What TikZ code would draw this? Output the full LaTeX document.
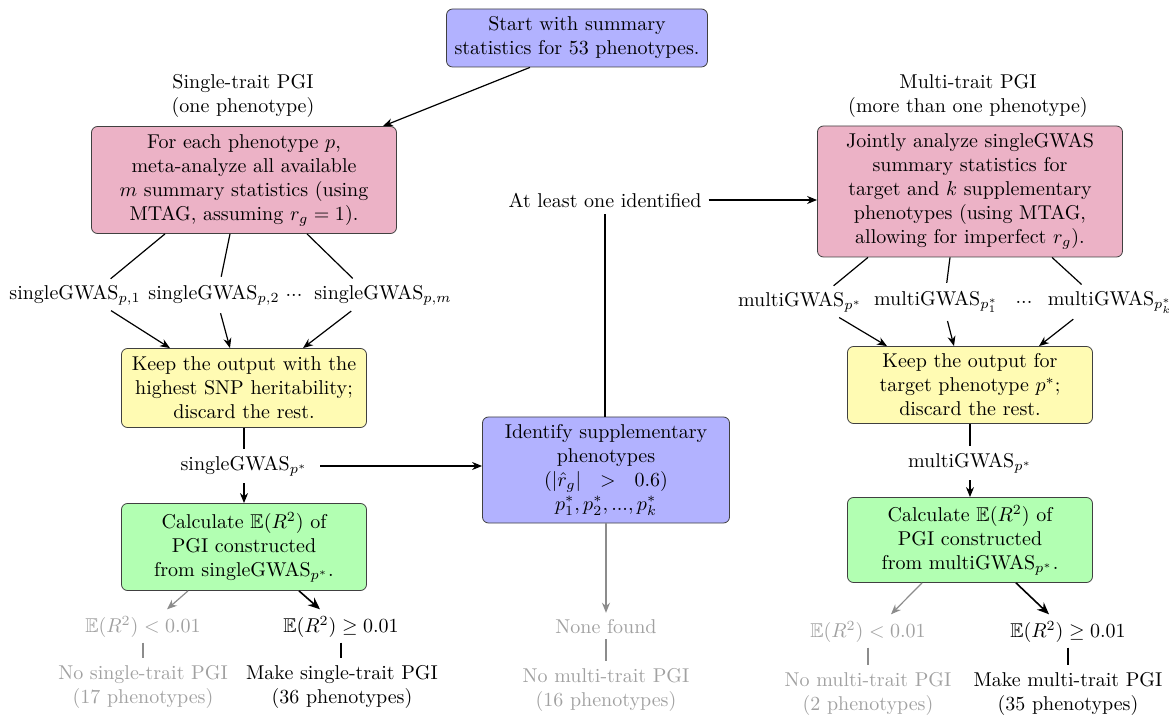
\documentclass[tikz,border=0pt]{standalone}
\usepackage{amsmath}
\usepackage{amssymb}
\usetikzlibrary{arrows.meta,positioning}
\tikzset{flowbox/.style={draw=black!75,rounded corners=3pt,align=center,inner xsep=4pt,inner ysep=3pt},
  startbox/.style={flowbox,fill=blue!30,minimum width=122.5pt,minimum height=29pt},
  mtagbox/.style={flowbox,fill=purple!30,minimum width=152.5pt},
  keepbox/.style={flowbox,fill=yellow!30,minimum width=122.5pt},
  calcbox/.style={flowbox,fill=green!30,minimum width=122.5pt},
  gwaslbl/.style={inner sep=1pt},
  faded/.style={text=black!37},
  arr/.style={semithick,-{Stealth[length=5pt,width=4pt]}},
  ln/.style={semithick}}

\begin{document}
\begin{tikzpicture}[x=0.5pt,y=-0.5pt]
                \useasboundingbox (0,0) rectangle (1175,717);
                \node[startbox] (start) at (577,38) {Start with summary\\statistics for 53 phenotypes.};
                \node[align=center] (singlelbl) at (243,96) {Single-trait PGI\\(one phenotype)};
                \node[align=center] (multilbl) at (968,96) {Multi-trait PGI\\(more than one phenotype)};
                \node[mtagbox,minimum height=53.5pt] (meta) at (244,180) {For each phenotype $p$,\\meta-analyze all available\\$m$ summary statistics (using\\MTAG, assuming $r_g=1$).};
                \node[mtagbox,minimum height=65.5pt] (joint) at (970,191.5) {Jointly analyze singleGWAS\\summary statistics for\\target and $k$ supplementary\\phenotypes (using MTAG,\\allowing for imperfect $r_g$).};
                \node (atleast) at (605,200) {At least one identified};
                % single-trait branch
                \node[gwaslbl] (sg1) at (75,295) {singleGWAS$_{p,1}$};
                \node[gwaslbl] (sg2) at (214,295) {singleGWAS$_{p,2}$};
                \node[gwaslbl] (sgdots) at (294,295) {...};
                \node[gwaslbl] (sgm) at (383,295) {singleGWAS$_{p,m}$};
                \node[keepbox,minimum height=39.5pt] (keepsingle) at (244,388) {Keep the output with the\\highest SNP heritability;\\discard the rest.};
                \node (sgstar) at (244,466) {singleGWAS$_{p^*}$};
                \node[calcbox,minimum height=43.5pt] (calcsingle) at (244,547) {Calculate $\mathbb{E}(R^2)$ of\\PGI constructed\\from singleGWAS$_{p^*}$.};
                \node[faded] (lowsingle) at (143,627) {$\mathbb{E}(R^2)<0.01$};
                \node (highsingle) at (341,627) {$\mathbb{E}(R^2)\geq 0.01$};
                \node[faded,align=center] (nosingle) at (143,687) {No single-trait PGI\\(17 phenotypes)};
                \node[align=center] (makesingle) at (342,687) {Make single-trait PGI\\(36 phenotypes)};
                % middle
                \node[startbox,minimum width=123.5pt,minimum height=53pt] (identify) at (606,470) {Identify supplementary\\phenotypes\\$(|\hat{r}_g|\ \ >\ \ 0.6)$\\$p_1^*,p_2^*,...,p_k^*$};
                \node[faded] (nonefound) at (606,627) {None found};
                \node[faded,align=center] (nomulti) at (606,690) {No multi-trait PGI\\(16 phenotypes)};
                % multi-trait branch
                \node[gwaslbl] (mg0) at (800,302) {multiGWAS$_{p^*}$};
                \node[gwaslbl] (mg1) at (936,302) {multiGWAS$_{p_1^*}$};
                \node[gwaslbl] (mgdots) at (1024,302) {...};
                \node[gwaslbl] (mgk) at (1110,302) {multiGWAS$_{p_k^*}$};
                \node[keepbox,minimum height=38.5pt] (keepmulti) at (970,385) {Keep the output for\\target phenotype $p^*$;\\discard the rest.};
                \node (mgstar) at (970,463) {multiGWAS$_{p^*}$};
                \node[calcbox,minimum height=42.5pt] (calcmulti) at (970,540) {Calculate $\mathbb{E}(R^2)$ of\\PGI constructed\\from multiGWAS$_{p^*}$.};
                \node[faded] (lowmulti) at (868,632) {$\mathbb{E}(R^2)<0.01$};
                \node (highmulti) at (1068,632) {$\mathbb{E}(R^2)\geq 0.01$};
                \node[faded,align=center] (nomultitwo) at (868,694) {No multi-trait PGI\\(2 phenotypes)};
                \node[align=center] (makemulti) at (1068,694) {Make multi-trait PGI\\(35 phenotypes)};

                \draw[arr] ([xshift=-23.5pt]start.south) -- ([xshift=69.5pt]meta.north);
                \draw[ln,shorten >=3pt] ([xshift=-39.5pt]meta.south) -- ([xshift=15.5pt]sg1.north);
                \draw[ln,shorten >=3pt] ([xshift=-7pt]meta.south) -- ([xshift=3pt]sg2.north);
                \draw[ln,shorten >=3pt] ([xshift=31.5pt]meta.south) -- ([xshift=-13pt]sgm.north);
                \draw[arr,shorten <=3pt] ([xshift=15.5pt]sg1.south) -- ([xshift=-37pt]keepsingle.north);
                \draw[arr,shorten <=3pt] ([xshift=2.5pt]sg2.south) -- ([xshift=-7pt]keepsingle.north);
                \draw[arr,shorten <=3pt] ([xshift=-13.5pt]sgm.south) -- ([xshift=29.5pt]keepsingle.north);
                \draw[ln] (keepsingle.south) -- (sgstar.north);
                \draw[arr] ([xshift=3pt]sgstar.east) -- (sgstar.east -| identify.west);
                \draw[arr] (sgstar.south) -- (calcsingle.north);
                \draw[arr,black!45] ([xshift=-28pt]calcsingle.south) -- ([xshift=12pt]lowsingle.north);
                \draw[thick,-{Stealth[length=6pt,width=5pt]}] ([xshift=27.5pt]calcsingle.south) -- ([xshift=-10.5pt]highsingle.north);
                \draw[ln,black!45,shorten <=-1pt] (lowsingle.south) -- (lowsingle.south |- nosingle.north);
                \draw[thick,shorten <=-1pt] (highsingle.south) -- (highsingle.south |- makesingle.north);

                \draw[arr] (atleast.east) -- (atleast.east -| joint.west);
                \draw[ln] (atleast.south) -- (atleast.south |- identify.north);
                \draw[arr,black!45] (identify.south) -- (nonefound.north);
                \draw[ln,black!45,shorten <=-1pt] (nonefound.south) -- (nomulti.north);

                \draw[ln,shorten >=3pt] ([xshift=-51pt]joint.south) -- ([xshift=14.5pt]mg0.north);
                \draw[ln,shorten >=3pt] ([xshift=-10pt]joint.south) -- ([xshift=5pt]mg1.north);
                \draw[ln,shorten >=3pt] ([xshift=41pt]joint.south) -- ([xshift=-12pt]mgk.north);
                \draw[arr,shorten <=3pt] ([xshift=17pt]mg0.south) -- ([xshift=-41.5pt]keepmulti.north);
                \draw[arr,shorten <=3pt] ([xshift=5pt]mg1.south) -- ([xshift=-8pt]keepmulti.north);
                \draw[arr,shorten <=3pt] ([xshift=-16pt]mgk.south) -- ([xshift=34.5pt]keepmulti.north);
                \draw[ln] (keepmulti.south) -- (mgstar.north);
                \draw[arr] (mgstar.south) -- (calcmulti.north);
                \draw[arr,black!45] ([xshift=-24pt]calcmulti.south) -- ([xshift=11.5pt]lowmulti.north);
                \draw[thick,-{Stealth[length=6pt,width=5pt]}] ([xshift=23pt]calcmulti.south) -- ([xshift=-9.5pt]highmulti.north);
                \draw[ln,black!45,shorten <=-1pt] (lowmulti.south) -- (nomultitwo.north);
                \draw[thick,shorten <=-1pt] (highmulti.south) -- (makemulti.north);
            \end{tikzpicture}
\end{document}
